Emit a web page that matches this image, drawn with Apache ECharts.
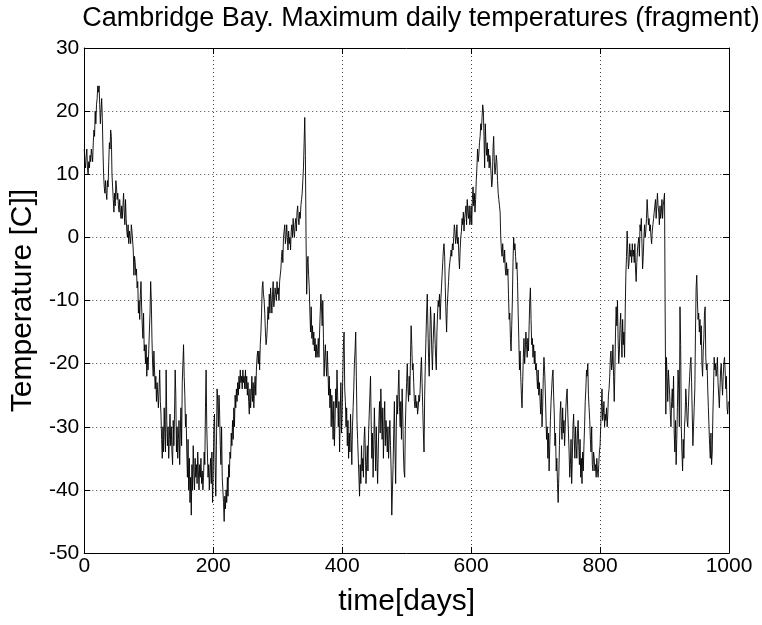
<!DOCTYPE html>
<html>
<head>
<meta charset="utf-8">
<title>Cambridge Bay. Maximum daily temperatures (fragment)</title>
<script src="https://cdn.jsdelivr.net/npm/echarts@6/dist/echarts.min.js"></script>
<style>
  html, body { margin: 0; padding: 0; background: #fff; }
  #chart { width: 762px; height: 625px; }
</style>
</head>
<body>
<div id="chart"></div>
<script>
// Daily maximum temperatures [C], one value per day, in blocks of 100 days.
const tmaxDays0to99 = [
  14, 12, 11, 13, 14, 11, 10, 12, 11, 13,
  12, 14, 13, 12, 15, 17, 16, 20, 18, 21,
  22, 24, 23, 24, 21, 18, 20, 22, 19, 14,
  10, 8, 7, 9, 7, 6, 9, 8, 12, 15,
  14, 17, 16, 10, 8, 6, 4, 7, 5, 9,
  8, 6, 7, 5, 4, 6, 4, 3, 5, 3,
  5, 7, 4, 2, 6, 3, 1, 0, 2, -1,
  1, 0, -1, 2, 1, 1, -2, -6, -3, -4,
  -6, -5, -8, -7, -12, -10, -13, -9, -7, -11,
  -14, -16, -12, -18, -17, -20, -17, -22, -19, -21
];
const tmaxDays100to199 = [
  -18, -15, -12, -7, -10, -16, -20, -22, -18, -21,
  -24, -22, -26, -23, -25, -27, -24, -21, -26, -28,
  -32, -35, -30, -34, -27, -31, -34, -21, -29, -33,
  -30, -35, -32, -28, -33, -30, -34, -36, -29, -33,
  -28, -21, -25, -34, -30, -35, -32, -29, -36, -31,
  -27, -33, -23, -20, -17, -22, -25, -30, -28, -34,
  -38, -32, -40, -35, -42, -38, -44, -36, -40, -33,
  -37, -40, -35, -38, -36, -39, -34, -37, -40, -36,
  -38, -35, -39, -37, -40, -38, -34, -36, -27, -21,
  -30, -34, -38, -36, -40, -37, -35, -39, -34, -42
];
const tmaxDays200to299 = [
  -38, -30, -28, -36, -41, -33, -24, -26, -30, -25,
  -28, -33, -36, -30, -38, -40, -42, -45, -41, -43,
  -40, -42, -38, -41, -36, -38, -34, -35, -31, -33,
  -29, -32, -27, -30, -25, -27, -24, -26, -23, -25,
  -22, -24, -21, -23, -22, -24, -21, -23, -22, -24,
  -21, -24, -22, -25, -23, -26, -28, -24, -27, -25,
  -22, -26, -23, -27, -24, -22, -25, -21, -19, -18,
  -20, -18, -21, -17, -15, -12, -8, -7, -9, -10,
  -12, -15, -17, -16, -14, -11, -13, -9, -12, -8,
  -10, -12, -9, -7, -11, -10, -8, -9, -10, -7
];
const tmaxDays300to399 = [
  -9, -8, -10, -7, -6, -5, -3, -2, -4, 0,
  1, 2, -1, 0, 2, 0, -2, 1, -1, 0,
  -2, 1, 2, 0, 3, 1, 0, 2, 3, 1,
  4, 5, 3, 2, 4, 3, 5, 6, 7, 9,
  11, 15, 19, 13, 0, -9, -4, -3, -6, -8,
  -12, -15, -11, -16, -14, -17, -15, -18, -16, -19,
  -17, -19, -18, -16, -19, -15, -12, -9, -11, -14,
  -10, -16, -22, -19, -17, -20, -22, -18, -21, -25,
  -22, -27, -24, -30, -25, -28, -32, -26, -33, -29,
  -24, -27, -21, -25, -30, -26, -34, -28, -23, -31
];
const tmaxDays400to499 = [
  -28, -22, -17, -15, -24, -26, -30, -27, -33, -29,
  -35, -31, -34, -28, -32, -36, -30, -27, -24, -20,
  -18, -15, -22, -29, -32, -35, -38, -41, -36, -39,
  -33, -37, -35, -38, -32, -30, -34, -39, -36, -33,
  -37, -31, -28, -25, -22, -29, -35, -31, -38, -33,
  -27, -32, -37, -30, -35, -39, -34, -29, -26, -31,
  -24, -28, -32, -27, -35, -30, -26, -33, -29, -31,
  -34, -30, -35, -32, -29, -33, -37, -44, -40, -36,
  -31, -26, -34, -39, -30, -25, -28, -24, -21, -27,
  -30, -26, -32, -24, -28, -34, -37, -38, -30, -26
];
const tmaxDays500to599 = [
  -23, -20, -24, -26, -22, -25, -19, -14, -17, -21,
  -20, -23, -26, -27, -25, -27, -26, -28, -27, -25,
  -26, -24, -21, -19, -23, -27, -31, -34, -25, -20,
  -16, -12, -9, -14, -19, -22, -16, -11, -13, -18,
  -21, -17, -14, -12, -16, -19, -21, -15, -12, -10,
  -11, -9, -13, -10, -8, -6, -4, -2, -1, -3,
  -8, -12, -15, -11, -9, -7, -5, -4, -3, -2,
  -3, -1, -2, 0, 2, 1, -1, 0, 2, -1,
  0, -3, -5, -2, 0, 1, 3, 2, 4, 1,
  3, 4, 5, 2, 6, 4, 3, 5, 2, 3
];
const tmaxDays600to699 = [
  5, 2, 6, 8, 5, 7, 4, 6, 9, 11,
  14, 12, 13, 15, 16, 18, 17, 19, 21, 20,
  16, 11, 18, 15, 13, 15, 12, 14, 11, 13,
  12, 10, 8, 9, 14, 16, 12, 10, 11, 13,
  12, 9, 7, 6, 5, 4, 0, -2, -3, -1,
  -3, -4, -2, -5, -6, -4, -6, -5, -9, -13,
  -12, -16, -18, -14, -10, -4, 0, -2, -1, -3,
  -5, -4, -7, -12, -16, -21, -18, -22, -25, -27,
  -23, -19, -16, -20, -18, -15, -17, -19, -16, -18,
  -14, -10, -8, -13, -17, -16, -19, -17, -20, -18
];
const tmaxDays700to799 = [
  -21, -20, -22, -24, -21, -25, -23, -26, -28, -24,
  -30, -27, -22, -19, -21, -24, -28, -32, -30, -35,
  -31, -37, -33, -29, -26, -24, -22, -21, -25, -28,
  -33, -31, -37, -35, -39, -42, -38, -33, -28, -26,
  -30, -32, -27, -31, -29, -33, -30, -27, -25, -24,
  -28, -31, -34, -38, -36, -32, -39, -35, -30, -28,
  -32, -35, -30, -33, -35, -31, -29, -33, -36, -32,
  -38, -35, -39, -34, -37, -33, -30, -26, -24, -21,
  -22, -20, -25, -27, -29, -32, -34, -30, -36, -37,
  -34, -35, -37, -36, -38, -35, -37, -38, -36, -34
];
const tmaxDays800to899 = [
  -33, -30, -27, -24, -29, -28, -26, -30, -28, -29,
  -27, -30, -28, -25, -24, -22, -19, -18, -21, -20,
  -17, -22, -26, -21, -15, -11, -14, -10, -16, -20,
  -18, -14, -12, -16, -19, -13, -17, -15, -19, -12,
  -6, -3, 1, -2, -5, -4, -1, -3, -2, -4,
  -1, -3, -2, -4, -1, -5, -7, -4, -2, -1,
  0, -3, 2, 1, 3, -1, -5, -3, 0, 2,
  0, 1, 3, 6, 4, 2, 3, 1, 2, 0,
  -1, 1, 2, 3, 4, 5, 6, 3, 5, 7,
  5, 4, 2, 5, 3, 4, 6, 3, 5, 6
];
const tmaxDays900to999 = [
  7, -12, -28, -19, -22, -26, -21, -23, -25, -28,
  -30, -26, -24, -27, -22, -31, -34, -29, -36, -32,
  -27, -21, -24, -30, -11, -17, -30, -34, -37, -32,
  -35, -30, -28, -24, -26, -29, -30, -27, -24, -22,
  -20, -19, -23, -28, -33, -30, -27, -24, -15, -8,
  -6, -10, -13, -12, -15, -13, -17, -14, -20, -22,
  -18, -16, -12, -11, -19, -21, -20, -24, -27, -30,
  -33, -35, -31, -36, -34, -28, -24, -19, -21, -20,
  -22, -21, -19, -23, -25, -27, -24, -21, -20, -23,
  -25, -22, -20, -19, -21, -24, -22, -27, -28, -26
];

// Axis ranges and tick labels
const xTicks = [0, 200, 400, 600, 800, 1000];
const yTicks = [-50, -40, -30, -20, -10, 0, 10, 20, 30];

const tmax = [].concat(
  tmaxDays0to99, tmaxDays100to199, tmaxDays200to299, tmaxDays300to399,
  tmaxDays400to499, tmaxDays500to599, tmaxDays600to699, tmaxDays700to799,
  tmaxDays800to899, tmaxDays900to999
);
const points = tmax.map((t, day) => [day, t]);

const FONT = '"Liberation Sans", Arial, Helvetica, sans-serif';
const xStep = xTicks[1] - xTicks[0];
const yStep = yTicks[1] - yTicks[0];

const gridDots = { show: true, lineStyle: { color: '#444', width: 1, type: [1, 3] } };
const blackLine = { show: true, onZero: false, lineStyle: { color: '#000', width: 1 } };
const inTicks = { show: true, inside: true, length: 6, lineStyle: { color: '#000', width: 1 } };
const plainNumber = v => String(v);

const chart = echarts.init(document.getElementById('chart'), null, { renderer: 'canvas' });
chart.setOption({
  animation: false,
  backgroundColor: '#fff',
  title: {
    text: 'Cambridge Bay. Maximum daily temperatures (fragment)',
    left: 416,
    textAlign: 'center',
    top: 0,
    textStyle: { fontFamily: FONT, fontSize: 27, fontWeight: 'normal', color: '#000' }
  },
  grid: { left: 83, right: 33, top: 48, bottom: 72, containLabel: false },
  xAxis: [
    {
      type: 'value', position: 'bottom',
      min: xTicks[0], max: xTicks[xTicks.length - 1], interval: xStep,
      name: 'time[days]', nameLocation: 'middle', nameGap: 34,
      nameTextStyle: { fontFamily: FONT, fontSize: 30, color: '#000' },
      axisLine: blackLine, axisTick: inTicks,
      axisLabel: { fontFamily: FONT, fontSize: 21, color: '#000', margin: 3, formatter: plainNumber },
      splitLine: gridDots
    },
    {
      type: 'value', position: 'top',
      min: xTicks[0], max: xTicks[xTicks.length - 1], interval: xStep,
      axisLine: blackLine, axisTick: inTicks,
      axisLabel: { show: false }, splitLine: { show: false }
    }
  ],
  yAxis: [
    {
      type: 'value', position: 'left',
      min: yTicks[0], max: yTicks[yTicks.length - 1], interval: yStep,
      name: 'Temperature [C]]', nameLocation: 'middle', nameGap: 42, nameRotate: 90,
      nameTextStyle: { fontFamily: FONT, fontSize: 30, color: '#000' },
      axisLine: blackLine, axisTick: inTicks,
      axisLabel: { fontFamily: FONT, fontSize: 21, color: '#000', margin: 5, formatter: plainNumber },
      splitLine: gridDots
    },
    {
      type: 'value', position: 'right',
      min: yTicks[0], max: yTicks[yTicks.length - 1], interval: yStep,
      axisLine: blackLine, axisTick: inTicks,
      axisLabel: { show: false }, splitLine: { show: false }
    }
  ],
  series: [
    {
      type: 'line',
      xAxisIndex: 0, yAxisIndex: 0,
      data: points,
      showSymbol: false,
      symbol: 'none',
      lineStyle: { color: '#000', width: 0.9 },
      silent: true
    }
  ]
});
</script>
</body>
</html>
